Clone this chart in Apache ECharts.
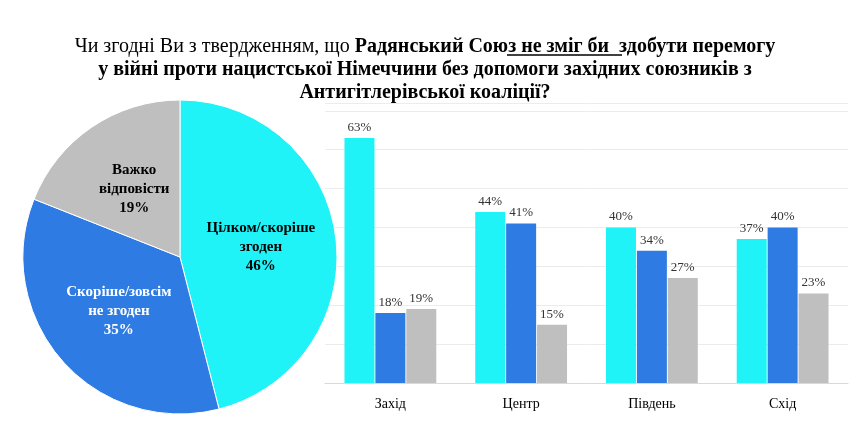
<!DOCTYPE html>
<html><head><meta charset="utf-8">
<script src="https://cdn.jsdelivr.net/npm/echarts@6/dist/echarts.min.js"></script>
<style>html,body{margin:0;padding:0;background:#fff}#c{width:850px;height:442px}</style>
</head><body><div id="c"></div>
<script>
const pieNames = ['Цілком/скоріше\nзгоден', 'Скоріше/зовсім\nне згоден', 'Важко\nвідповісти'];
const pieValues = [46, 35, 19];
const regions = ['Захід', 'Центр', 'Південь', 'Схід'];
const agree = [63, 44, 40, 37];
const disagree = [18, 41, 34, 40];
const hard = [19, 15, 27, 23];
const colors = ['#1FF3F7', '#2F7BE4', '#BFBFBF'];
const F = 'Liberation Serif';
const chart = echarts.init(document.getElementById('c'));
const lbl = {show: true, position: 'top', formatter: '{c}%', fontFamily: F, fontSize: 13, color: '#333', distance: 4};
chart.setOption({
  animation: false,
  title: {
    left: 'center', top: 30,
    text: '{n|Чи згодні Ви з твердженням, що }{b|Радянський Союз не зміг би  здобути перемогу}\n{b|у війні проти нацистської Німеччини без допомоги західних союзників з}\n{b|Антигітлерівської коаліції?}',
    textStyle: {
      fontFamily: F, fontWeight: 'normal', lineHeight: 23,
      rich: {
        n: {fontFamily: F, fontSize: 20, fontWeight: 'normal', color: '#000', lineHeight: 23},
        b: {fontFamily: F, fontSize: 20, fontWeight: 'bold', color: '#000', lineHeight: 23}
      }
    }
  },
  graphic: [{type: 'line', shape: {x1: 507, y1: 55, x2: 622, y2: 55}, style: {stroke: '#000', lineWidth: 1.5}}],
  grid: {left: 325, right: 2, top: 103, bottom: 59},
  xAxis: {
    type: 'category', data: regions,
    axisTick: {show: false},
    axisLine: {lineStyle: {color: '#d9d9d9'}},
    axisLabel: {fontFamily: F, fontSize: 14, color: '#000', margin: 14}
  },
  yAxis: {
    type: 'value', min: 0, max: 72, interval: 10,
    axisLabel: {show: false}, axisLine: {show: false}, axisTick: {show: false},
    splitLine: {lineStyle: {color: '#ececec'}}
  },
  series: [
    {type: 'pie', center: [180, 257], radius: 157, startAngle: 90, clockwise: true,
     itemStyle: {borderColor: '#fff', borderWidth: 1},
     label: {show: true, position: 'inside', fontFamily: F, fontSize: 15, fontWeight: 'bold', lineHeight: 19,
       formatter: p => p.name + '\n' + p.value + '%'},
     labelLine: {show: false},
     data: pieNames.map((n, i) => ({name: n, value: pieValues[i],
       itemStyle: {color: colors[i]},
       label: {color: i === 1 ? '#fff' : '#000'}}))
    },
    {type: 'bar', data: agree, itemStyle: {color: colors[0]}, barWidth: 30, barGap: '3%', label: lbl},
    {type: 'bar', data: disagree, itemStyle: {color: colors[1]}, barWidth: 30, barGap: '3%', label: lbl},
    {type: 'bar', data: hard, itemStyle: {color: colors[2]}, barWidth: 30, barGap: '3%', label: lbl}
  ]
});
</script></body></html>
